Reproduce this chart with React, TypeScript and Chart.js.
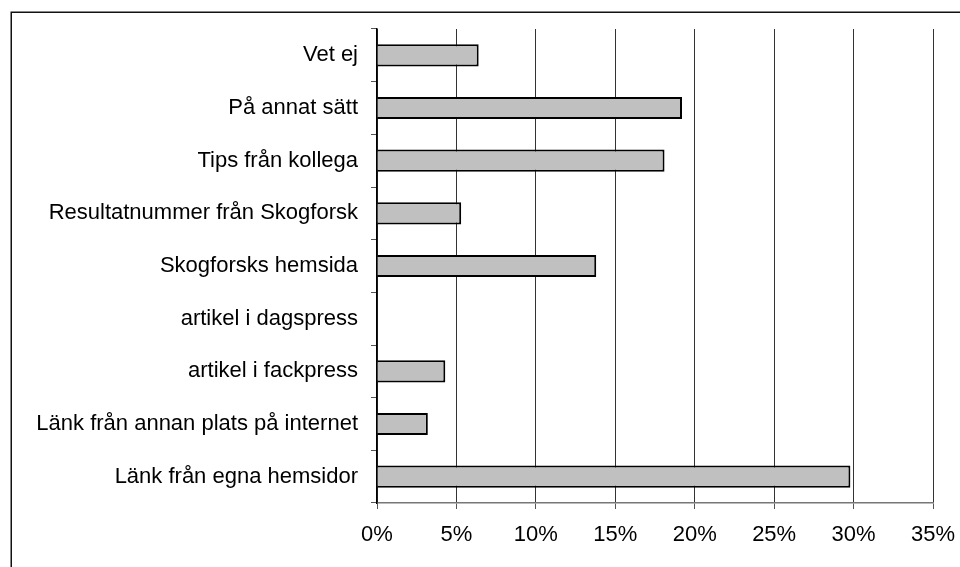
import React, { useEffect, useRef } from "react";
import { Chart, registerables } from "chart.js";

Chart.register(...registerables);

const categories = [
  "Vet ej",
  "På annat sätt",
  "Tips från kollega",
  "Resultatnummer från Skogforsk",
  "Skogforsks hemsida",
  "artikel i dagspress",
  "artikel i fackpress",
  "Länk från annan plats på internet",
  "Länk från egna hemsidor",
];

const values = [6.4, 19.2, 18.1, 5.3, 13.8, 0, 4.3, 3.2, 29.8];

const xMin = 0;
const xMax = 35;
const xStep = 5;

const FONT = "'Liberation Sans', Arial, sans-serif";

const frame = {
  id: "frame",
  beforeDraw(chart: any) {
    const ctx = chart.ctx;
    ctx.save();
    ctx.strokeStyle = "#111";
    ctx.lineWidth = 1.5;
    ctx.strokeRect(11.25, 12.25, chart.width + 20, chart.height + 20);
    ctx.restore();
  },
};

export default function App() {
  const ref = useRef<HTMLCanvasElement | null>(null);
  useEffect(() => {
    if (!ref.current) return;
    const chart = new Chart(ref.current, {
      type: "bar",
      data: {
        labels: categories,
        datasets: [
          {
            data: values,
            backgroundColor: "#c0c0c0",
            borderColor: "#000",
            borderWidth: 2,
            barPercentage: 0.42,
            categoryPercentage: 1,
          },
        ],
      },
      plugins: [frame],
      options: {
        indexAxis: "y",
        animation: false,
        responsive: false,
        maintainAspectRatio: false,
        layout: { padding: { left: 0, top: 29, right: 27, bottom: 0 } },
        plugins: {
          legend: { display: false },
          tooltip: { enabled: false },
        },
        scales: {
          x: {
            min: xMin,
            max: xMax,
            afterFit(scale: any) {
              scale.height = 64;
              scale.paddingLeft = 0;
              scale.paddingRight = 0;
            },
            ticks: {
              stepSize: xStep,
              color: "#000",
              font: { family: FONT, size: 22 },
              padding: 13,
              maxRotation: 0,
              callback: (v: any) => v + "%",
            },
            grid: {
              color: "#333",
              lineWidth: 1,
              drawTicks: true,
              tickLength: 6,
              tickColor: "#555",
            },
            border: { color: "#777", width: 1.5 },
          },
          y: {
            afterFit(scale: any) {
              scale.width = 377;
              scale.paddingTop = 0;
              scale.paddingBottom = 0;
            },
            ticks: {
              color: "#000",
              font: { family: FONT, size: 22 },
              padding: 13,
              autoSkip: false,
            },
            grid: {
              offset: true,
              drawOnChartArea: false,
              drawTicks: true,
              tickLength: 6,
              tickColor: "#555",
            },
            border: { color: "#000", width: 1.5 },
          },
        },
      },
    });
    return () => chart.destroy();
  }, []);
  return (
    <div style={{ position: "fixed", left: 0, top: 0, width: 960, height: 567, background: "#fff" }}>
      <canvas ref={ref} width={960} height={567} style={{ display: "block", width: 960, height: 567 }} />
    </div>
  );
}
